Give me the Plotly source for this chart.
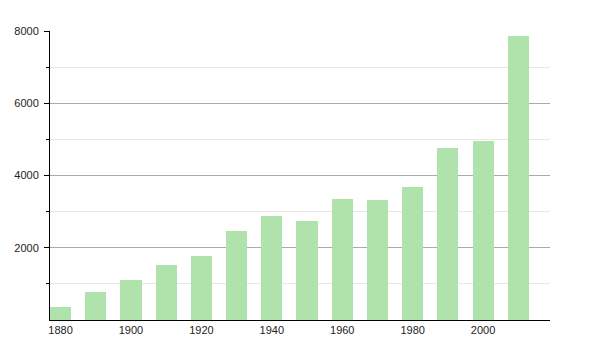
import plotly.graph_objects as go

years = [1880, 1890, 1900, 1910, 1920, 1930, 1940, 1950, 1960, 1970, 1980, 1990, 2000, 2010]
population = [370, 785, 1115, 1515, 1770, 2470, 2875, 2740, 3345, 3320, 3688, 4765, 4950, 7865]

x_ticks = [1880, 1900, 1920, 1940, 1960, 1980, 2000]
y_ticks = [2000, 4000, 6000, 8000]
y_minor = [1000, 3000, 5000, 7000]

fig = go.Figure()
fig.add_trace(go.Bar(
    x=years, y=population, width=6,
    marker=dict(color="rgb(176,227,172)", line=dict(width=0)),
))

fig.update_layout(
    width=600, height=350,
    margin=dict(l=50, r=50, t=31, b=30),
    paper_bgcolor="white", plot_bgcolor="white",
    showlegend=False,
    font=dict(family="Liberation Sans, Arial, sans-serif", size=11, color="#222"),
    bargap=0,
)
fig.update_xaxes(
    range=[1877, 2019], tickvals=x_ticks, ticktext=[str(v) for v in x_ticks],
    showgrid=False, showline=True, linecolor="black", linewidth=1,
    ticks="", zeroline=False, fixedrange=True,
)
fig.update_yaxes(
    range=[0, 8000], tickvals=y_ticks, ticktext=[str(v) for v in y_ticks],
    showgrid=True, gridcolor="#aaaaaa", gridwidth=1,
    showline=True, linecolor="black", linewidth=1,
    ticks="outside", ticklen=5, tickcolor="black", zeroline=False,
    ticklabelstandoff=3,
    minor=dict(tickvals=y_minor, ticks="outside", ticklen=3, tickcolor="black",
               showgrid=True, gridcolor="#e6e6e6", gridwidth=1),
)

fig.write_html("out.html")
